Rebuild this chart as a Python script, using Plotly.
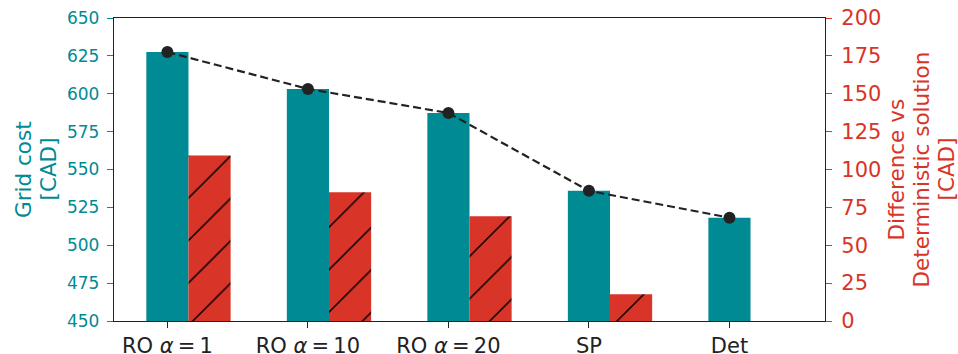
import plotly.graph_objects as go

categories = ["RO <i>α</i>\u2009=\u20091", "RO <i>α</i>\u2009=\u200910", "RO <i>α</i>\u2009=\u200920", "SP", "Det"]
grid_cost = [627.5, 603.2, 587.3, 535.9, 518.2]
difference = [109.3, 85.0, 69.1, 17.7, 0.0]
left_ticks = [450, 475, 500, 525, 550, 575, 600, 625, 650]
right_ticks = [0, 25, 50, 75, 100, 125, 150, 175, 200]
left_title = ["Grid cost", "[CAD]"]
right_title = ["Difference vs", "Deterministic solution", "[CAD]"]

TEAL = "#008a94"
RED = "#d93428"
FONT = "DejaVu Sans"
xs = list(range(len(categories)))

L, R, T, B = 114, 133, 18, 33
W, H = 958, 354
PW = W - L - R

fig = go.Figure()
fig.add_trace(go.Bar(x=xs, y=grid_cost, width=0.3, offset=-0.15,
                     marker=dict(color=TEAL, line=dict(width=0)), yaxis="y", showlegend=False))
fig.add_trace(go.Scatter(x=xs, y=grid_cost, mode="lines+markers", yaxis="y",
                         line=dict(color="#222222", width=2.2, dash="8px,4px"),
                         marker=dict(color="#222222", size=12), showlegend=False))
fig.add_trace(go.Bar(x=xs, y=difference, width=0.3, offset=0.15,
                     marker=dict(color=RED, line=dict(width=0),
                                 pattern=dict(shape="/", fgcolor="black", bgcolor=RED,
                                              size=30, solidity=0.05, fillmode="replace")),
                     yaxis="y2", showlegend=False))

annotations = []
for txt, px in zip(left_title, [23.5, 48]):
    annotations.append(dict(text=txt, xref="paper", yref="paper", x=(px - L) / PW, y=0.5,
                            xanchor="center", yanchor="middle", textangle=-90, showarrow=False,
                            font=dict(size=21.5, color=TEAL, family=FONT)))
for txt, px in zip(right_title, [896, 921, 946]):
    annotations.append(dict(text=txt, xref="paper", yref="paper", x=(px - L) / PW, y=0.5,
                            xanchor="center", yanchor="middle", textangle=-90, showarrow=False,
                            font=dict(size=21.5, color=RED, family=FONT)))

fig.update_layout(
    width=W, height=H,
    margin=dict(l=L, r=R, t=T, b=B),
    plot_bgcolor="white", paper_bgcolor="white",
    barmode="overlay",
    hovermode=False,
    font=dict(family=FONT, size=21, color="#222222"),
    annotations=annotations,
    xaxis=dict(range=[-0.38, 4.68], tickvals=xs, ticktext=categories, automargin=False,
               showline=True, linecolor="#222222", linewidth=1.3, mirror=True,
               ticks="outside", ticklen=6, tickwidth=1.2, tickcolor="#222222",
               showgrid=False, zeroline=False, tickfont=dict(size=21, color="#222222")),
    yaxis=dict(range=[450, 650], tickvals=left_ticks, automargin=False,
               showline=True, linecolor="#222222", linewidth=1.3,
               ticks="outside", ticklen=6, tickwidth=1.2, tickcolor=TEAL, ticklabelstandoff=4,
               showgrid=False, zeroline=False, tickfont=dict(size=17, color=TEAL)),
    yaxis2=dict(range=[0, 200], tickvals=right_ticks, overlaying="y", side="right", automargin=False,
                showline=True, linecolor="#222222", linewidth=1.3,
                ticks="outside", ticklen=6, tickwidth=1.2, tickcolor=RED, ticklabelstandoff=5,
                showgrid=False, zeroline=False, tickfont=dict(size=21, color=RED)),
)

fig.write_html("out.html", config={"displayModeBar": False},
               post_script="document.body.style.margin='0';")
